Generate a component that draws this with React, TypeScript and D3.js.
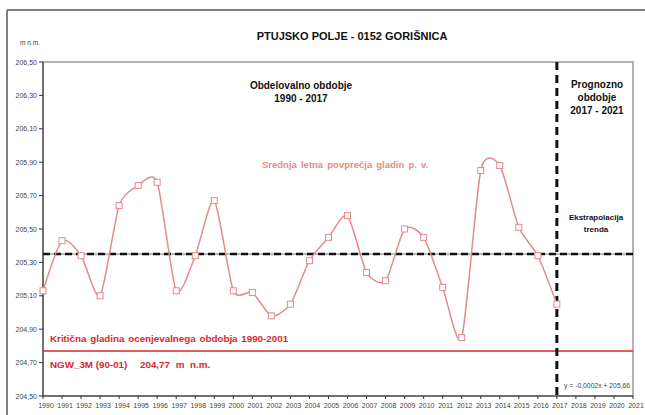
import React from "react";
import * as d3 from "d3";

const years = [1990,1991,1992,1993,1994,1995,1996,1997,1998,1999,2000,2001,2002,2003,2004,2005,2006,2007,2008,2009,2010,2011,2012,2013,2014,2015,2016,2017];
const levels = [205.13,205.43,205.34,205.10,205.64,205.76,205.78,205.13,205.34,205.67,205.13,205.12,204.98,205.05,205.31,205.45,205.58,205.24,205.19,205.50,205.45,205.15,204.85,205.85,205.88,205.51,205.34,205.05];
const yTicks = [204.5,204.7,204.9,205.1,205.3,205.5,205.7,205.9,206.1,206.3,206.5];
const xTicks = d3.range(1990, 2022);
const trendLevel = 205.35;
const criticalLevel = 204.77;
const forecastStart = 2017;

const W = 645, H = 415;
const M = { left: 43, right: 633, top: 62, bottom: 396 };
const FONT = "'Liberation Sans', Arial, sans-serif";

export default function App() {
  const x = d3.scaleLinear().domain([1990, 2021]).range([M.left, M.right]);
  const y = d3.scaleLinear().domain([204.5, 206.5]).range([M.bottom, M.top]);
  const pts = years.map((yr, i) => [yr, levels[i]] as [number, number]);
  const line = d3.line<[number, number]>().x(d => x(d[0])).y(d => y(d[1])).curve(d3.curveCardinal.tension(0.3));
  const fmt = (v: number) => v.toFixed(2).replace(".", ",");
  const lineColor = "#e58a8a";
  const red = "#d9282f";
  return (
    <svg width={W} height={H} style={{ position: "absolute", left: 0, top: 0, fontFamily: FONT }}>
      <rect x={0} y={0} width={W} height={H} fill="#fff" />
      {/* outer frame */}
      <line x1={7} y1={10} x2={W} y2={10} stroke="#555" strokeWidth={1.5} />
      <line x1={7} y1={10} x2={7} y2={H} stroke="#555" strokeWidth={1.5} />
      {/* plot area border */}
      <rect x={M.left} y={M.top} width={M.right - M.left} height={M.bottom - M.top} fill="none" stroke="#999" strokeWidth={1.5} />
      <line x1={M.left} y1={M.top} x2={M.left} y2={M.bottom} stroke="#333" strokeWidth={1} />
      <line x1={M.left} y1={M.bottom} x2={M.right} y2={M.bottom} stroke="#333" strokeWidth={1} />
      {/* title */}
      <text x={352} y={40} textAnchor="middle" fontSize={11} fontWeight="bold" fill="#111">PTUJSKO POLJE - 0152 GORIŠNICA</text>
      <text x={20} y={45} fontSize={6.5} fill="#444">m n.m.</text>
      {/* y axis */}
      {yTicks.map(t => (
        <g key={t}>
          <line x1={M.left - 4} x2={M.left} y1={y(t)} y2={y(t)} stroke="#333" />
          <text x={M.left - 6} y={y(t) + 2.5} textAnchor="end" fontSize={7} fill="#444">{fmt(t)}</text>
        </g>
      ))}
      {/* x axis */}
      {xTicks.map(t => (
        <g key={t}>
          <line x1={x(t)} x2={x(t)} y1={M.bottom} y2={M.bottom + 3} stroke="#333" />
          <text x={x(t) + 3} y={M.bottom + 12} textAnchor="middle" fontSize={7} fill="#444">{t}</text>
        </g>
      ))}
      {/* critical line */}
      <line x1={M.left} x2={M.right} y1={y(criticalLevel)} y2={y(criticalLevel)} stroke={red} strokeWidth={1.5} />
      {/* trend line */}
      <line x1={M.left} x2={M.right} y1={y(trendLevel)} y2={y(trendLevel)} stroke="#777" strokeWidth={1} />
      <line x1={M.left} x2={M.right} y1={y(trendLevel)} y2={y(trendLevel)} stroke="#111" strokeWidth={2.5} strokeDasharray="7,4" />
      {/* forecast divider */}
      <line x1={x(forecastStart)} x2={x(forecastStart)} y1={M.top} y2={M.bottom} stroke="#111" strokeWidth={3} strokeDasharray="8,5" />
      {/* series */}
      <path d={line(pts) || ""} fill="none" stroke={lineColor} strokeWidth={1.5} />
      {pts.map(p => (
        <rect key={p[0]} x={x(p[0]) - 3} y={y(p[1]) - 3} width={6} height={6} fill="#fff" stroke={lineColor} strokeWidth={1} />
      ))}
      {/* annotations */}
      <text x={301} y={89} textAnchor="middle" fontSize={10} fontWeight="bold" fill="#111">Obdelovalno obdobje</text>
      <text x={301} y={102} textAnchor="middle" fontSize={10} fontWeight="bold" fill="#111">1990 - 2017</text>
      <text x={597} y={88} textAnchor="middle" fontSize={10} fontWeight="bold" fill="#111">Prognozno</text>
      <text x={597} y={101} textAnchor="middle" fontSize={10} fontWeight="bold" fill="#111">obdobje</text>
      <text x={597} y={114} textAnchor="middle" fontSize={10} fontWeight="bold" fill="#111">2017 - 2021</text>
      <text x={596} y={220} textAnchor="middle" fontSize={8} fontWeight="bold" fill="#111">Ekstrapolacija</text>
      <text x={596} y={232} textAnchor="middle" fontSize={8} fontWeight="bold" fill="#111">trenda</text>
      <text x={262} y={168} fontSize={9.5} fontWeight="bold" fill={lineColor} wordSpacing={1.5}>Srednja letna povprečja gladin p. v.</text>
      <text x={50} y={342} fontSize={9.8} fontWeight="bold" fill={red} wordSpacing={1}>Kritična gladina ocenjevalnega obdobja 1990-2001</text>
      <text x={50} y={368} fontSize={9.8} fontWeight="bold" fill={red}>NGW_3M (90-01)</text>
      <text x={140} y={368} fontSize={9.8} fontWeight="bold" fill={red} wordSpacing={3}>204,77 m n.m.</text>
      <text x={564} y={388} fontSize={6.8} fill="#444">y = -0,0002x + 205,66</text>
    </svg>
  );
}
